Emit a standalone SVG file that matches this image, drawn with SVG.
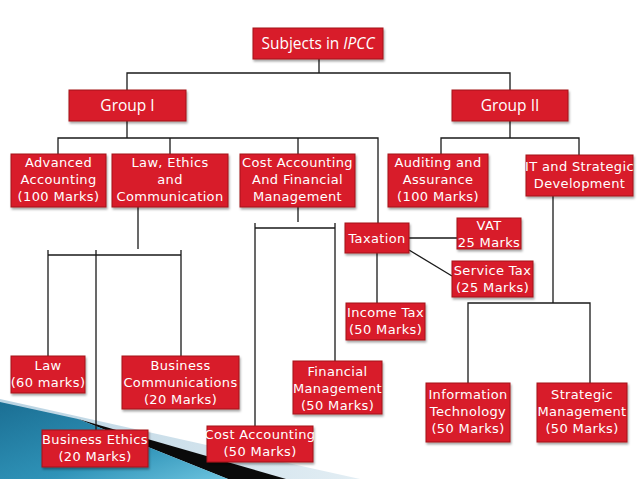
<svg xmlns="http://www.w3.org/2000/svg" width="638" height="479" viewBox="0 0 638 479">
<defs>
<linearGradient id="blue" x1="0" y1="0" x2="1" y2="1">
<stop offset="0" stop-color="#1b6f94"/>
<stop offset="0.6" stop-color="#2f93b8"/>
<stop offset="1" stop-color="#6cc3de"/>
</linearGradient>
<linearGradient id="light" x1="0" y1="0" x2="1" y2="0">
<stop offset="0" stop-color="#b9d3e2"/>
<stop offset="1" stop-color="#e3eef4"/>
</linearGradient>
<filter id="sh" x="-10%" y="-10%" width="125%" height="135%">
<feDropShadow dx="1" dy="2" stdDeviation="1.2" flood-color="#000" flood-opacity="0.35"/>
</filter>
</defs>
<style>
.box{fill:#d81f2a;stroke:#a3141c;stroke-width:1;filter:url(#sh)}
.t{fill:#fff;font-family:"DejaVu Sans","Liberation Sans",sans-serif;font-size:13px;letter-spacing:0.35px;text-anchor:middle;dominant-baseline:central}
.h{fill:#fff;font-family:"Open Sans","Liberation Sans",sans-serif;font-size:15.5px;text-anchor:middle;dominant-baseline:central}
.c{fill:none;stroke:#1a1a1a;stroke-width:1.3}
</style>
<rect width="638" height="479" fill="#fff"/>
<g id="swoosh">
<polygon points="0,399 360,479 0,479" fill="url(#light)"/>
<polygon points="78,419 286,479 228,479" fill="#0a0a0a"/>
<polygon points="0,402 78,419 228,479 0,479" fill="url(#blue)"/>
</g>
<g id="connectors">
<path class="c" d="M319,59 V73 M127,90 V73 H510 V90"/>
<path class="c" d="M127,121 V138 M58,154 V138 H378 V223 M170,154 V138 M298,154 V138"/>
<path class="c" d="M510,121 V138 M441,154 V138 H579 V155"/>
<path class="c" d="M138,207 V249 M48,250 V356 M96,250 V430 M181,250 V356 M48,255 H181"/>
<path class="c" d="M298,207 V222 M255,228 H335 M255,223 V426 M335,223 V361"/>
<path class="c" d="M409,238 H457 M409,250 L452,276 M377,253 V303"/>
<path class="c" d="M553,196 V303 M468,383 V303 H590 V383"/>
</g>
<g id="n-subjects"><rect class="box" x="253" y="28" width="130" height="31"/><text class="h" x="318" y="43">Subjects in <tspan font-style="italic">IPCC</tspan></text></g>
<g id="n-group1"><rect class="box" x="69" y="90" width="117" height="31"/><text class="h" x="127.5" y="105">Group I</text></g>
<g id="n-group2"><rect class="box" x="452" y="90" width="116" height="31"/><text class="h" x="510" y="105">Group II</text></g>
<g id="n-adv"><rect class="box" x="11" y="154" width="95" height="53"/><text class="t" x="58.5" y="162">Advanced</text><text class="t" x="58.5" y="179">Accounting</text><text class="t" x="58.5" y="196">(100 Marks)</text></g>
<g id="n-law-ethics"><rect class="box" x="112" y="154" width="116" height="53"/><text class="t" x="170" y="162">Law, Ethics</text><text class="t" x="170" y="179">and</text><text class="t" x="170" y="196">Communication</text></g>
<g id="n-cost-fin"><rect class="box" x="240" y="154" width="115" height="53"/><text class="t" x="297.5" y="162">Cost Accounting</text><text class="t" x="297.5" y="179">And Financial</text><text class="t" x="297.5" y="196">Management</text></g>
<g id="n-audit"><rect class="box" x="388" y="154" width="100" height="53"/><text class="t" x="438" y="162">Auditing and</text><text class="t" x="438" y="179">Assurance</text><text class="t" x="438" y="196">(100 Marks)</text></g>
<g id="n-it-strat"><rect class="box" x="526" y="155" width="107" height="41"/><text class="t" x="579.5" y="166">IT and Strategic</text><text class="t" x="579.5" y="183">Development</text></g>
<g id="n-taxation"><rect class="box" x="345" y="223" width="64" height="30"/><text class="t" x="377" y="238">Taxation</text></g>
<g id="n-vat"><rect class="box" x="457" y="218" width="64" height="31"/><text class="t" x="489" y="225">VAT</text><text class="t" x="489" y="242">25 Marks</text></g>
<g id="n-service"><rect class="box" x="452" y="261" width="81" height="36"/><text class="t" x="492.5" y="270">Service Tax</text><text class="t" x="492.5" y="287">(25 Marks)</text></g>
<g id="n-income"><rect class="box" x="346" y="303" width="79" height="37"/><text class="t" x="385.5" y="312">Income Tax</text><text class="t" x="385.5" y="329">(50 Marks)</text></g>
<g id="n-law"><rect class="box" x="11" y="356" width="74" height="37"/><text class="t" x="48" y="365">Law</text><text class="t" x="48" y="382">(60 marks)</text></g>
<g id="n-buscomm"><rect class="box" x="122" y="356" width="117" height="53"/><text class="t" x="180.5" y="365">Business</text><text class="t" x="180.5" y="382">Communications</text><text class="t" x="180.5" y="399">(20 Marks)</text></g>
<g id="n-busethics"><rect class="box" x="42" y="430" width="106" height="37"/><text class="t" x="95" y="439">Business Ethics</text><text class="t" x="95" y="456">(20 Marks)</text></g>
<g id="n-costacc"><rect class="box" x="207" y="426" width="106" height="36"/><text class="t" x="260" y="434">Cost Accounting</text><text class="t" x="260" y="451">(50 Marks)</text></g>
<g id="n-finmgmt"><rect class="box" x="293" y="361" width="89" height="53"/><text class="t" x="337.5" y="371">Financial</text><text class="t" x="337.5" y="388">Management</text><text class="t" x="337.5" y="405">(50 Marks)</text></g>
<g id="n-infotech"><rect class="box" x="426" y="383" width="84" height="59"/><text class="t" x="468" y="394">Information</text><text class="t" x="468" y="411">Technology</text><text class="t" x="468" y="428">(50 Marks)</text></g>
<g id="n-stratmgmt"><rect class="box" x="537" y="383" width="90" height="59"/><text class="t" x="582" y="394">Strategic</text><text class="t" x="582" y="411">Management</text><text class="t" x="582" y="428">(50 Marks)</text></g>
</svg>
